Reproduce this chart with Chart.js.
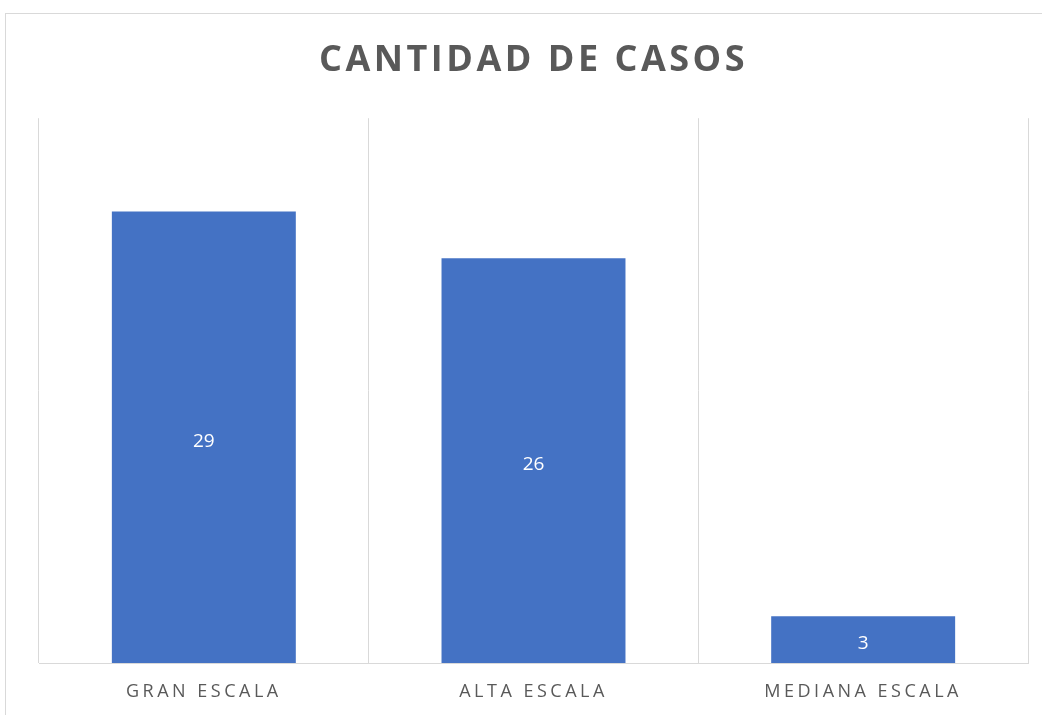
<!DOCTYPE html>
<html>
<head>
<meta charset="utf-8">
<script src="https://cdn.jsdelivr.net/npm/chart.js@4"></script>
<style>
html,body{margin:0;padding:0;background:#fff;overflow:hidden;}
#wrap{position:absolute;left:0;top:0;width:1042px;height:715px;}
#frame{position:absolute;left:5px;top:13px;width:1060px;height:720px;border:1px solid #d9d9d9;box-sizing:border-box;pointer-events:none;}
</style>
</head>
<body>
<div id="wrap"><canvas id="c" width="1042" height="715"></canvas></div>
<div id="frame"></div>
<script>
const categories = ["GRAN ESCALA", "ALTA ESCALA", "MEDIANA ESCALA"];
const casos = [29, 26, 3];
const chartTitle = "CANTIDAD DE CASOS";

const spacingPlugin = {
  id: 'spacing',
  beforeDraw(chart) { chart.ctx.letterSpacing = '3.5px'; },
  afterDatasetsDraw(chart) {
    const ctx = chart.ctx;
    ctx.save();
    ctx.letterSpacing = '0px';
    ctx.fillStyle = '#ffffff';
    ctx.font = '19px "Open Sans", sans-serif';
    ctx.textAlign = 'center';
    ctx.textBaseline = 'middle';
    const meta = chart.getDatasetMeta(0);
    meta.data.forEach((bar, i) => {
      const v = chart.data.datasets[0].data[i];
      ctx.fillText(String(v), bar.x, (bar.y + bar.base) / 2 + 4);
    });
    ctx.restore();
  }
};

new Chart(document.getElementById('c'), {
  type: 'bar',
  data: {
    labels: categories,
    datasets: [{
      data: casos,
      backgroundColor: '#4472c4',
      borderWidth: 0,
      barPercentage: 1,
      categoryPercentage: 0.558
    }]
  },
  options: {
    responsive: false,
    animation: false,
    layout: { padding: { left: 39, right: 14, top: 0, bottom: 0 } },
    plugins: {
      legend: { display: false },
      tooltip: { enabled: false },
      title: {
        display: true,
        text: chartTitle,
        color: '#595959',
        font: { family: '"Open Sans", sans-serif', size: 36, weight: 'bold', lineHeight: 1.2 },
        padding: { top: 39, bottom: 36 }
      }
    },
    scales: {
      x: {
        afterFit(s) { s.height = 52; },
        grid: { display: true, color: '#d9d9d9', lineWidth: 1, offset: true, drawTicks: false },
        border: { display: true, color: '#d9d9d9', width: 1 },
        ticks: { color: '#595959', font: { family: '"Open Sans", sans-serif', size: 18 }, padding: 18, maxRotation: 0 }
      },
      y: {
        display: false,
        min: 0,
        max: 35
      }
    }
  },
  plugins: [spacingPlugin]
});
</script>
</body>
</html>
